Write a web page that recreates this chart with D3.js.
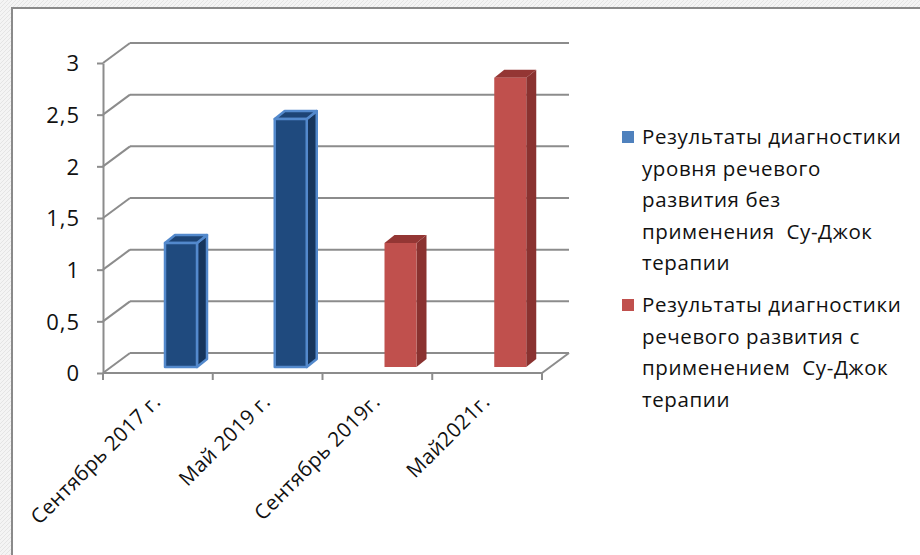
<!DOCTYPE html>
<html>
<head>
<meta charset="utf-8">
<script src="https://cdn.jsdelivr.net/npm/d3@7/dist/d3.min.js"></script>
<style>
  body { margin: 0; background: #f2f2f2; }
  svg { display: block; }
  .tick text { font-family: "Open Sans", "DejaVu Sans", sans-serif; }
</style>
</head>
<body>
<svg id="chart" width="920" height="555"></svg>
<script>
// data
var categories = ["Сентябрь 2017 г.", "Май 2019 г.", "Сентябрь 2019г.", "Май2021г."];
var seriesWithout = [1.2, 2.4, null, null];
var seriesWith = [null, null, 1.2, 2.8];
var yTicks = [0, 0.5, 1, 1.5, 2, 2.5, 3];
var legendWithout = ["Результаты диагностики", "уровня речевого", "развития без", "применения  Су-Джок", "терапии"];
var legendWith = ["Результаты диагностики", "речевого развития с", "применением  Су-Джок", "терапии"];

var colors = {
  blue: { front: "#1f4a7e", side: "#16355c", top: "#1d4475", edge: "#5389cc", legend: "#4f81bd" },
  red:  { front: "#c0504d", side: "#8a3230", top: "#943634", edge: "none", legend: "#c0504d" }
};

var svg = d3.select("#chart");

// textured page background outside the frame
var defs = svg.append("defs");
var pat = defs.append("pattern")
    .attr("id", "hatch")
    .attr("width", 4).attr("height", 4)
    .attr("patternUnits", "userSpaceOnUse");
pat.append("rect").attr("width", 4).attr("height", 4).attr("fill", "#f4f4f4");
pat.append("path").attr("d", "M0,4 L4,0").attr("stroke", "#e4e4e4").attr("stroke-width", 1);
svg.append("rect").attr("width", 920).attr("height", 555).attr("fill", "url(#hatch)");

// chart frame
svg.append("rect")
    .attr("x", 12).attr("y", 8)
    .attr("width", 920).attr("height", 560)
    .attr("fill", "#fff")
    .attr("stroke", "#8a8a8a")
    .attr("stroke-width", 2);

var plot = { left: 103, right: 542, top: 63, bottom: 373 };
var depth = { dx: 27, dy: -20 };   // floor / wall depth
var barDepth = { dx: 10, dy: -8 };

var x = d3.scaleBand().domain(categories).range([plot.left, plot.right]);
var y = d3.scaleLinear().domain([0, 3]).range([plot.bottom, plot.top]);

var ru = d3.formatLocale({ decimal: ",", thousands: " ", grouping: [3], currency: ["", " ₽"] });
var fmt = function(d) { return ru.format(",")(d); };

var gridColor = "#8c8c8c";
var font = '"Open Sans", "DejaVu Sans", sans-serif';

// back wall gridlines + left wall diagonals
var grid = svg.append("g");
yTicks.forEach(function(t) {
  grid.append("line")
      .attr("x1", plot.left + depth.dx).attr("x2", plot.right + depth.dx)
      .attr("y1", y(t) + depth.dy).attr("y2", y(t) + depth.dy)
      .attr("stroke", gridColor).attr("stroke-width", 2);
  grid.append("line")
      .attr("x1", plot.left).attr("x2", plot.left + depth.dx)
      .attr("y1", y(t)).attr("y2", y(t) + depth.dy)
      .attr("stroke", gridColor).attr("stroke-width", 2);
});
// floor right edge
grid.append("line")
    .attr("x1", plot.right).attr("x2", plot.right + depth.dx)
    .attr("y1", y(0)).attr("y2", y(0) + depth.dy)
    .attr("stroke", gridColor).attr("stroke-width", 2);

// y axis
var yAxis = d3.axisLeft(y)
    .tickValues(yTicks)
    .tickFormat(fmt)
    .tickSize(6)
    .tickSizeOuter(0)
    .tickPadding(17);

var yG = svg.append("g")
    .attr("transform", "translate(" + plot.left + ",0)")
    .call(yAxis);
yG.select(".domain").attr("stroke", gridColor).attr("stroke-width", 2);
yG.selectAll(".tick line").attr("stroke", gridColor).attr("stroke-width", 2);
yG.selectAll(".tick text")
    .style("font-size", "22px")
    .style("letter-spacing", "1px")
    .attr("fill", "#111")
    .attr("dy", "0.36em");

// x axis: front floor line with ticks at band boundaries
var xG = svg.append("g");
xG.append("line")
    .attr("x1", plot.left).attr("x2", plot.right)
    .attr("y1", y(0)).attr("y2", y(0))
    .attr("stroke", gridColor).attr("stroke-width", 2);
var bounds = categories.map(function(c) { return x(c); }).concat([plot.right]);
xG.selectAll(".xtick")
    .data(bounds)
    .enter().append("line")
    .attr("x1", function(d) { return d; }).attr("x2", function(d) { return d; })
    .attr("y1", y(0)).attr("y2", y(0) + 7)
    .attr("stroke", gridColor).attr("stroke-width", 2);

xG.selectAll(".xlabel")
    .data(categories)
    .enter().append("text")
    .attr("class", "xlabel")
    .attr("text-anchor", "end")
    .attr("transform", function(d) {
      return "translate(" + (x(d) + x.bandwidth() / 2 + 4) + "," + (y(0) + 30) + ") rotate(-45)";
    })
    .style("font-family", font)
    .style("font-size", "20.5px")
    .style("letter-spacing", "0.4px")
    .attr("fill", "#111")
    .text(function(d) { return d; });

// 3d bars
var bars = [];
categories.forEach(function(c, i) {
  if (seriesWithout[i] != null) bars.push({ cat: c, value: seriesWithout[i], col: colors.blue });
  if (seriesWith[i] != null) bars.push({ cat: c, value: seriesWith[i], col: colors.red });
});

var barW = 32, barOffset = 62, baseLift = 6;

var bg = svg.selectAll(".bar")
    .data(bars)
    .enter().append("g")
    .attr("class", "bar");

function pts(arr) { return arr.map(function(p) { return p.join(","); }).join(" "); }

bg.each(function(d) {
  var g = d3.select(this);
  var x0 = x(d.cat) + barOffset, x1 = x0 + barW;
  var yb = y(0) - baseLift, yt = y(d.value) - baseLift;
  var dx = barDepth.dx, dy = barDepth.dy;
  var sw = d.col.edge === "none" ? 0 : 2.5;
  g.append("polygon")
      .attr("points", pts([[x1, yt], [x1 + dx, yt + dy], [x1 + dx, yb + dy], [x1, yb]]))
      .attr("fill", d.col.side)
      .attr("stroke", d.col.edge).attr("stroke-width", sw).attr("stroke-linejoin", "round");
  g.append("polygon")
      .attr("points", pts([[x0, yt], [x0 + dx, yt + dy], [x1 + dx, yt + dy], [x1, yt]]))
      .attr("fill", d.col.top)
      .attr("stroke", d.col.edge).attr("stroke-width", sw).attr("stroke-linejoin", "round");
  g.append("rect")
      .attr("x", x0).attr("y", yt)
      .attr("width", barW).attr("height", yb - yt)
      .attr("fill", d.col.front)
      .attr("stroke", d.col.edge).attr("stroke-width", sw).attr("stroke-linejoin", "round");
});

// legend
var legend = svg.append("g")
    .style("font-family", font)
    .style("font-size", "20.5px")
    .style("letter-spacing", "0.6px");

var entries = [
  { lines: legendWithout, color: colors.blue.legend, top: 144 },
  { lines: legendWith, color: colors.red.legend, top: 312 }
];
var lineH = 31.5;

entries.forEach(function(e) {
  legend.append("rect")
      .attr("x", 622).attr("y", e.top - 13)
      .attr("width", 12).attr("height", 12)
      .attr("fill", e.color);
  var t = legend.append("text").attr("fill", "#111");
  e.lines.forEach(function(l, i) {
    t.append("tspan")
        .attr("x", 642)
        .attr("y", e.top + i * lineH)
        .style("white-space", "pre")
        .text(l);
  });
});
</script>
</body>
</html>
